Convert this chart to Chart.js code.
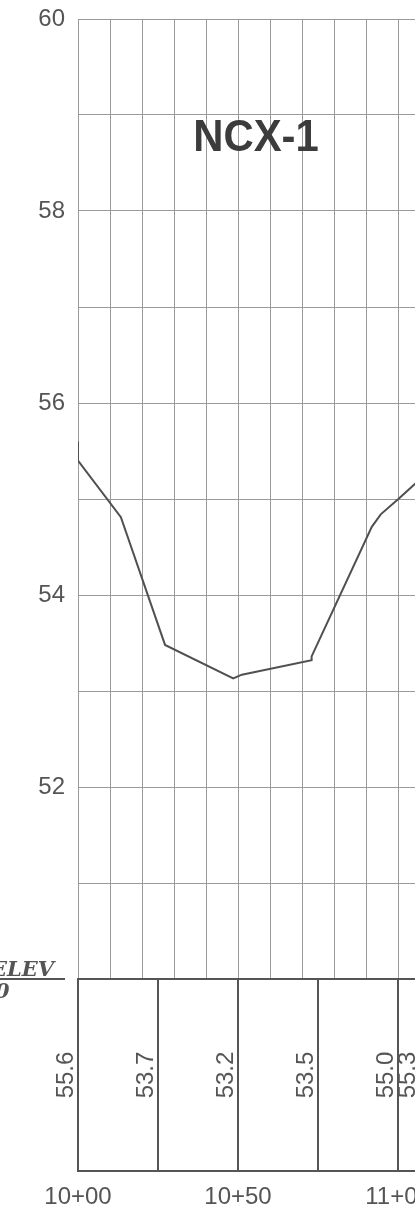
<!DOCTYPE html>
<html><head><meta charset="utf-8">
<script src="https://cdn.jsdelivr.net/npm/chart.js@4/dist/chart.umd.min.js"></script>
<style>html,body{margin:0;padding:0;background:#fff;overflow:hidden}canvas{display:block}</style>
</head><body>
<canvas id="c" width="415" height="1221"></canvas>
<script>
// ---- data ----
const profileStations = [1000, 1000, 1013.4, 1027.2, 1048.5, 1051.2, 1073.0, 1073.0, 1091.8, 1094.6, 1100.1, 1106.0];
const profileElevs    = [55.6, 55.4, 54.81, 53.48, 53.13, 53.17, 53.32, 53.36, 54.71, 54.84, 55.00, 55.18];
const tableStations   = [1000, 1025, 1050, 1075, 1100, 1107];
const tableElevLabels = ['55.6', '53.7', '53.2', '53.5', '55.0', '55.3'];
const stationTicks      = [1000, 1050, 1100];
const stationTickLabels = ['10+00', '10+50', '11+00'];
const elevTickLabels  = [52, 54, 56, 58, 60];
const chartTitle = 'NCX-1';
const tableHeaderTop = 'ELEV';
const tableHeaderBottom = '0';

Chart.defaults.font.family = '"Liberation Sans", Arial, sans-serif';

const sheetPlugin = {
  id: 'profileSheet',
  afterDraw(chart) {
    const { ctx, chartArea: a, scales: { x, y } } = chart;
    const top = Math.round(y.getPixelForValue(50));
    const bot = Math.round(y.getPixelForValue(48));
    const mid = y.getPixelForValue(49);
    ctx.save();
    ctx.strokeStyle = '#555';
    ctx.lineWidth = 2;
    ctx.beginPath();
    ctx.moveTo(a.left - 1, top); ctx.lineTo(chart.width, top);
    ctx.moveTo(a.left - 1, bot); ctx.lineTo(chart.width, bot);
    tableStations.forEach(s => {
      const px = Math.round(x.getPixelForValue(s));
      ctx.moveTo(px, top); ctx.lineTo(px, bot);
    });
    ctx.stroke();
    // elevation labels in the table
    ctx.fillStyle = '#555';
    ctx.font = '24px "Liberation Sans"';
    ctx.textAlign = 'center';
    ctx.textBaseline = 'middle';
    tableStations.forEach((s, i) => {
      const px = x.getPixelForValue(s) - 12;
      ctx.save();
      ctx.translate(px, mid);
      ctx.rotate(-Math.PI / 2);
      ctx.fillText(tableElevLabels[i], 0, 0);
      ctx.restore();
    });
    // header at left
    ctx.font = 'italic bold 21px "DejaVu Serif"';
    ctx.textAlign = 'right';
    ctx.textBaseline = 'alphabetic';
    ctx.fillText(tableHeaderTop, 54, top - 3);
    ctx.beginPath(); ctx.moveTo(0, top); ctx.lineTo(65, top); ctx.stroke();
    ctx.textAlign = 'left';
    ctx.fillText(tableHeaderBottom, -5, top + 19);
    // title
    ctx.font = 'bold 45px "Liberation Sans"';
    ctx.fillStyle = '#3c3c3c';
    ctx.textAlign = 'center';
    ctx.textBaseline = 'middle';
    ctx.translate(256, 139);
    ctx.scale(0.93, 1);
    ctx.fillText(chartTitle, 0, 0);
    ctx.restore();
  }
};

new Chart(document.getElementById('c'), {
  type: 'line',
  data: {
    datasets: [{
      data: profileStations.map((s, i) => ({ x: s, y: profileElevs[i] })),
      borderColor: '#505050',
      borderWidth: 2,
      pointRadius: 0,
      tension: 0,
      fill: false
    }]
  },
  plugins: [sheetPlugin],
  options: {
    responsive: false,
    animation: false,
    layout: { padding: { top: 19, right: 0, bottom: 0, left: 0 } },
    plugins: { legend: { display: false }, tooltip: { enabled: false } },
    scales: {
      x: {
        type: 'linear',
        min: 1000,
        max: 1105.3,
        border: { display: false },
        grid: { color: '#9a9a9a', lineWidth: 1, drawTicks: false },
        ticks: {
          stepSize: 10,
          includeBounds: false,
          autoSkip: false,
          maxRotation: 0,
          minRotation: 0,
          padding: 204,
          color: '#555',
          font: { size: 24 },
          callback: v => { const i = stationTicks.indexOf(v); return i >= 0 ? stationTickLabels[i] : ''; }
        },
        afterFit: s => { s.height = 242; s.paddingLeft = 0; s.paddingRight = 0; }
      },
      y: {
        min: 50,
        max: 60,
        border: { display: false },
        grid: { color: '#9a9a9a', lineWidth: 1, drawTicks: false },
        ticks: {
          stepSize: 1,
          padding: 13,
          color: '#555',
          font: { size: 24 },
          callback: v => elevTickLabels.includes(v) ? String(v) : ''
        },
        afterFit: s => { s.width = 78; s.paddingTop = 0; s.paddingBottom = 0; }
      }
    }
  }
});
</script>
</body></html>
